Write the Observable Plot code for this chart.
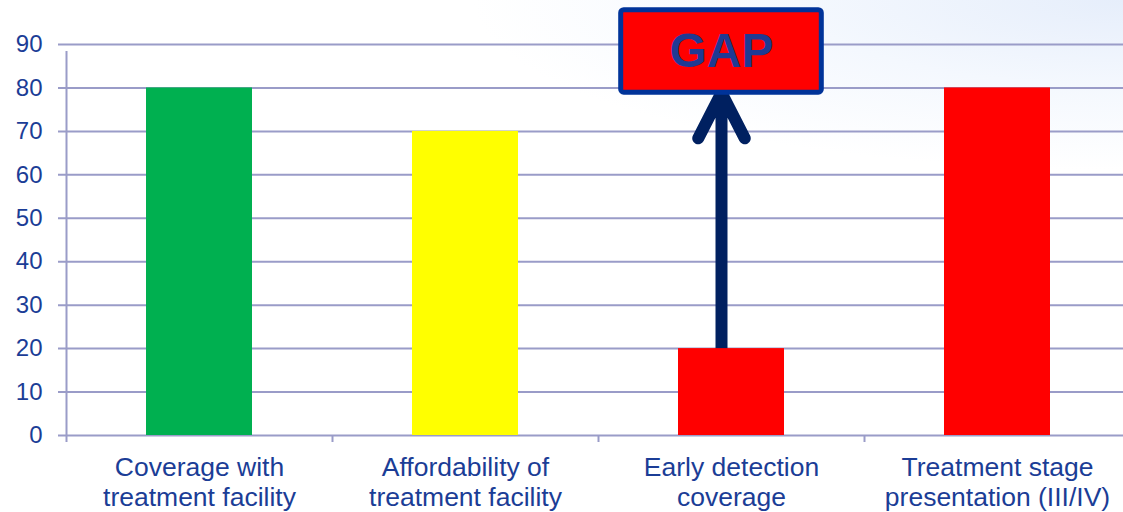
<!DOCTYPE html>
<html><head><meta charset="utf-8">
<script src="https://cdn.jsdelivr.net/npm/d3@7"></script>
<script src="https://cdn.jsdelivr.net/npm/@observablehq/plot@0.6"></script>
<style>
html,body{margin:0;padding:0;}
body{width:1123px;height:512px;overflow:hidden;
background: radial-gradient(ellipse 650px 170px at 100% 0%, #e6eefb 0%, #f4f8fe 50%, #ffffff 100%);
font-family:"Liberation Sans",Arial,sans-serif;}
</style></head>
<body><div id="chart"></div>
<script>
const categories = ["Coverage with\ntreatment facility","Affordability of\ntreatment facility","Early detection\ncoverage","Treatment stage\npresentation (III/IV)"];
const values = [80, 70, 20, 80];
const colors = ["#00b050", "#ffff00", "#ff0000", "#ff0000"];
const yTicks = [0,10,20,30,40,50,60,70,80,90];
const gapCategory = "Early detection\ncoverage";
const gapFrom = 20;
const gapTo = 78.9;
const gapBoxTop = 97.9;
const gapLabel = "GAP";

const data = categories.map((c,i)=>({category:c, value:values[i], color:colors[i]}));
const textColor = "#1b3d96";
const gridColor = "#9a9cc8";
const gapShift = -10;

const chart = Plot.plot({
  width: 1123, height: 512,
  marginLeft: 66, marginRight: -7, marginTop: 44, marginBottom: 77,
  style: {background: "transparent", fontFamily: "Liberation Sans, Arial, sans-serif", overflow: "visible"},
  x: {domain: categories, paddingInner: 0.6, paddingOuter: 0.3, align: 0.5},
  y: {domain: [0, 90]},
  marks: [
    Plot.ruleY(yTicks, {stroke: gridColor, strokeWidth: 2, insetLeft: -8}),
    Plot.ruleX([categories[0]], {x: d => d, y1: 0, y2: 90, dx: -133, insetBottom: -7, stroke: gridColor, strokeWidth: 2}),
    Plot.ruleX(categories, {x: d => d, y1: 0, y2: 0, dx: -133, insetBottom: -7, stroke: gridColor, strokeWidth: 2}),
    Plot.axisY({ticks: yTicks, tickSize: 0, tickPadding: 24, fontSize: 24, fill: textColor, label: null}),
    Plot.axisX({tickSize: 0, tickPadding: 19, fontSize: 26.5, lineHeight: 1.14, fill: textColor, label: null}),
    Plot.arrow([{c: gapCategory}], {x1: "c", x2: "c", y1: () => gapFrom, y2: () => gapTo, dx: gapShift, stroke: "#002060", strokeWidth: 12, headLength: 6.4, headAngle: 54, strokeLinejoin: "miter", strokeLinecap: "round"}),
    Plot.barY(data, {x: "category", y: "value", fill: "color"}),
    Plot.barY([{c: gapCategory}], {x: "c", y1: () => gapTo, y2: () => gapBoxTop, dx: gapShift, fill: "#ff0000", stroke: "#003399", strokeWidth: 5, rx: 3, insetLeft: -47.3, insetRight: -47.3}),
    Plot.text([{c: gapCategory}], {x: "c", y: () => (gapTo + gapBoxTop) / 2, dx: gapShift, text: () => gapLabel, fontSize: 48, fontWeight: "bold", fill: "#1f3a93"})
  ]
});
document.getElementById("chart").append(chart);
</script>
</body></html>
